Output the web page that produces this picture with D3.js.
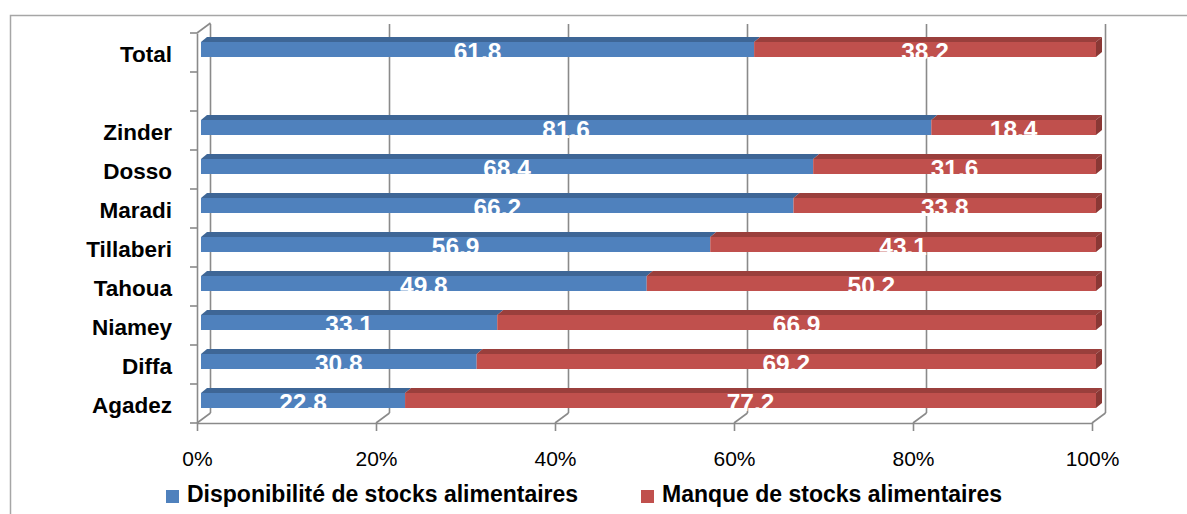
<!DOCTYPE html>
<html><head><meta charset="utf-8">
<script src="https://cdn.jsdelivr.net/npm/d3@7"></script>
<style>
body{margin:0;background:#fff;}
svg{display:block;font-family:"Liberation Sans",Arial,sans-serif;}
</style></head>
<body>
<svg id="c" width="1187" height="514"></svg>
<script>
const categories = ["Total", "", "Zinder", "Dosso", "Maradi", "Tillaberi", "Tahoua", "Niamey", "Diffa", "Agadez"];
const dispo  = [61.8, null, 81.6, 68.4, 66.2, 56.9, 49.8, 33.1, 30.8, 22.8];
const manque = [38.2, null, 18.4, 31.6, 33.8, 43.1, 50.2, 66.9, 69.2, 77.2];
const seriesNames = ["Disponibilité de stocks alimentaires", "Manque de stocks alimentaires"];
const tickValues = [0, 0.2, 0.4, 0.6, 0.8, 1.0];

const colors = {
  front: ["#4F81BD", "#C0504D"],
  top:   ["#3E6696", "#9A3F3C"],
  side:  ["#375A85", "#8A3835"]
};

const svg = d3.select("#c");

// outer frame
svg.append("path").attr("d","M10.5,514 L10.5,15.5 L1187,15.5")
  .attr("fill","none").attr("stroke","#a6a6a6").attr("stroke-width",1.5);

const x = d3.scaleLinear().domain([0,1]).range([197,1092]);
const y = d3.scaleBand().domain(categories).range([33,423]).padding(0);
const DX = 13.5, DY = -10;       // wall depth
const gridCol = "#8a8a8a";

const g = svg.append("g");

// back wall vertical gridlines + floor diagonals
tickValues.forEach(t => {
  g.append("line").attr("x1",x(t)+DX).attr("x2",x(t)+DX).attr("y1",423+DY).attr("y2",24)
    .attr("stroke",gridCol).attr("stroke-width",1.6);
  g.append("line").attr("x1",x(t)).attr("y1",423).attr("x2",x(t)+DX).attr("y2",423+DY)
    .attr("stroke",gridCol).attr("stroke-width",1.6);
});
// left wall top diagonal
g.append("line").attr("x1",x(0)).attr("y1",33).attr("x2",x(0)+DX).attr("y2",33+DY)
  .attr("stroke",gridCol).attr("stroke-width",1.6);

// x axis
const xAxis = d3.axisBottom(x).tickValues(tickValues).tickFormat(d3.format(".0%"))
  .tickSize(8).tickSizeOuter(0).tickPadding(22);
const xg = svg.append("g").attr("transform","translate(0,423)").call(xAxis);
xg.select(".domain").attr("stroke",gridCol).attr("stroke-width",1.6);
xg.selectAll(".tick line").attr("stroke",gridCol).attr("stroke-width",1.6);
xg.selectAll(".tick text").attr("font-size",21).attr("fill","#000")
  .attr("font-family","'Liberation Sans',Arial,sans-serif").attr("dy","0.62em");

// y axis (labels) + boundary ticks
const yAxis = d3.axisLeft(y).tickSize(0).tickPadding(25);
const yg = svg.append("g").attr("transform","translate(197,0)").call(yAxis);
yg.select(".domain").attr("stroke",gridCol).attr("stroke-width",1.6);
yg.selectAll(".tick text").attr("font-size",22.5).attr("font-weight","bold").attr("fill","#000")
  .attr("font-family","'Liberation Sans',Arial,sans-serif").attr("dy","0.42em");
const bounds = categories.map(c => y(c)).concat([y.range()[1]]);
svg.append("g").selectAll("line").data(bounds).join("line")
  .attr("x1",190).attr("x2",197).attr("y1",d=>d).attr("y2",d=>d)
  .attr("stroke",gridCol).attr("stroke-width",1.6);

// stacked data
const rows = categories.map((c,i)=>({cat:c, d:dispo[i], m:manque[i]})).filter(r=>r.d!=null);
const stack = d3.stack().keys(["d","m"]).value((r,k)=>r[k]/100);
const layers = stack(rows);

const OX = 4, BH = 15, TD = 5, TX = 6; // bar front offset, height, top depth
const bx = v => x(v) + OX;
const faceTop = c => y(c) + y.bandwidth()/2 - 3 - BH/2;

const bars = svg.append("g");
layers.forEach((layer, si) => {
  layer.forEach(seg => {
    const c = seg.data.cat;
    const x0 = bx(seg[0]), x1 = bx(seg[1]), yt = faceTop(c);
    bars.append("path")
      .attr("d",`M${x0},${yt} L${x0+TX},${yt-TD} L${x1+TX},${yt-TD} L${x1},${yt} Z`)
      .attr("fill",colors.top[si]);
    bars.append("rect").attr("x",x0).attr("y",yt).attr("width",x1-x0).attr("height",BH)
      .attr("fill",colors.front[si]);
    if (si === layers.length-1) {
      bars.append("path")
        .attr("d",`M${x1},${yt} L${x1+TX},${yt-TD} L${x1+TX},${yt+BH-TD} L${x1},${yt+BH} Z`)
        .attr("fill",colors.side[si]);
    }
  });
});

// data labels
const labels = svg.append("g");
layers.forEach((layer, si) => {
  layer.forEach(seg => {
    const c = seg.data.cat;
    const val = si===0 ? seg.data.d : seg.data.m;
    labels.append("text")
      .attr("x",(bx(seg[0])+bx(seg[1]))/2)
      .attr("y",faceTop(c)+BH+3)
      .attr("text-anchor","middle")
      .attr("font-size",24.5).attr("font-weight","bold").attr("fill","#fff")
      .text(d3.format(".1f")(val));
  });
});

// legend
const legX = [166, 641];
const leg = svg.append("g");
seriesNames.forEach((n,i)=>{
  leg.append("rect").attr("x",legX[i]).attr("y",490).attr("width",13).attr("height",13)
    .attr("fill",colors.front[i]);
  leg.append("text").attr("x",legX[i]+21).attr("y",502)
    .attr("font-size",23).attr("font-weight","bold").attr("fill","#000").text(n);
});
</script>
</body></html>
